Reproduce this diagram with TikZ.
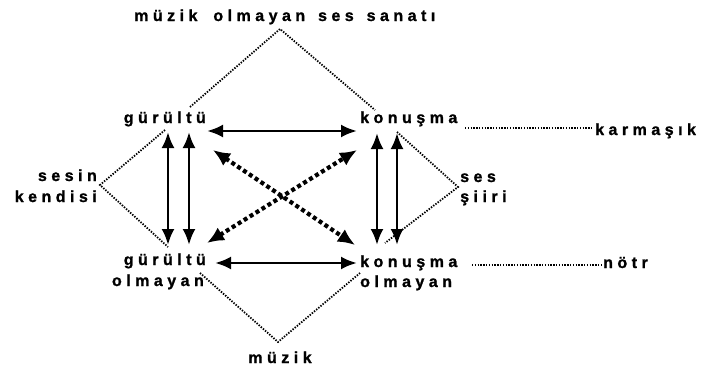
\documentclass[tikz,border=0pt]{standalone}
\usepackage{fontspec}
\font\labfont="Liberation Sans/B:letterspace=28;embolden=1.2" at 16pt
\usetikzlibrary{arrows.meta}
\begin{document}
\begin{tikzpicture}[x=1pt,y=-1pt,
  lbl/.style={inner sep=0pt,font=\labfont},
  thin dots/.style={line width=1.8pt,dash pattern=on 1.4pt off 1.4pt},
  solidarrow/.style={line width=2.8pt,{Latex[length=16pt,width=13pt]}-{Latex[length=16pt,width=13pt]}},
  dotarrow/.style={line width=4.2pt,dash pattern=on 4pt off 3pt,{Latex[length=17pt,width=15pt]}-{Latex[length=17pt,width=15pt]}}]
\useasboundingbox (0,0) rectangle (704,370);
% labels
\node[lbl,anchor=base west] (top) at (134,21) {müzik\hspace{7pt} olmayan\hspace{4pt} ses\hspace{4pt} sanatı};
\node[lbl,anchor=base east] (g1) at (206,123) {gürültü};
\node[lbl,anchor=base east] (s1) at (97,181) {sesin};
\node[lbl,anchor=base east] (s2) at (97,202) {kendisi};
\node[lbl,anchor=base east] (g2) at (206,265) {gürültü};
\node[lbl,anchor=base east] (g3) at (204,286) {olmayan};
\node[lbl,anchor=base west] (k1) at (360,123) {konuşma};
\node[lbl,anchor=base west] (k2) at (360,267) {konuşma};
\node[lbl,anchor=base west] (k3) at (360,287) {olmayan};
\node[lbl,anchor=base west] (p1) at (460,182) {ses};
\node[lbl,anchor=base west] (p2) at (460,202) {şiiri};
\node[lbl,anchor=base west] (km) at (595,135) {karmaşık};
\node[lbl,anchor=base west] (nt) at (603,268) {nötr};
\node[lbl,anchor=base] (mz) at (280,363) {müzik};
% coordinates
\coordinate (tA) at (190,107); \coordinate (tB) at (280,29); \coordinate (tC) at (375,110);
\coordinate (lA) at (165,130); \coordinate (lB) at (100,185); \coordinate (lC) at (168,247);
\coordinate (rA) at (397,132); \coordinate (rB) at (458,187); \coordinate (rC) at (385,243);
\coordinate (bA) at (200,273); \coordinate (bB) at (278,342); \coordinate (bC) at (360,273);
\coordinate (h1a) at (465,128); \coordinate (h1b) at (593,128);
\coordinate (h2a) at (472,265); \coordinate (h2b) at (603,265);
\coordinate (a1) at (207,131); \coordinate (a2) at (357,131);
\coordinate (a3) at (215,263); \coordinate (a4) at (357,263);
\coordinate (v1t) at (168,132); \coordinate (v1b) at (168,245);
\coordinate (v2t) at (189,132); \coordinate (v2b) at (189,245);
\coordinate (v3t) at (377,133); \coordinate (v3b) at (377,245);
\coordinate (v4t) at (397,133); \coordinate (v4b) at (397,245);
\coordinate (d1a) at (213,150); \coordinate (d1b) at (355,245);
\coordinate (d2a) at (207,243); \coordinate (d2b) at (357,150);
% dotted diamonds
\draw[thin dots] (tA) -- (tB) -- (tC);
\draw[thin dots] (lA) -- (lB) -- (lC);
\draw[thin dots] (rA) -- (rB) -- (rC);
\draw[thin dots] (bA) -- (bB) -- (bC);
\draw[thin dots] (h1a) -- (h1b);
\draw[thin dots] (h2a) -- (h2b);
% arrows
\draw[solidarrow] (a1) -- (a2);
\draw[solidarrow] (a3) -- (a4);
\draw[solidarrow] (v1t) -- (v1b);
\draw[solidarrow] (v2t) -- (v2b);
\draw[solidarrow] (v3t) -- (v3b);
\draw[solidarrow] (v4t) -- (v4b);
\draw[dotarrow] (d1a) -- (d1b);
\draw[dotarrow] (d2a) -- (d2b);
\end{tikzpicture}
\end{document}
